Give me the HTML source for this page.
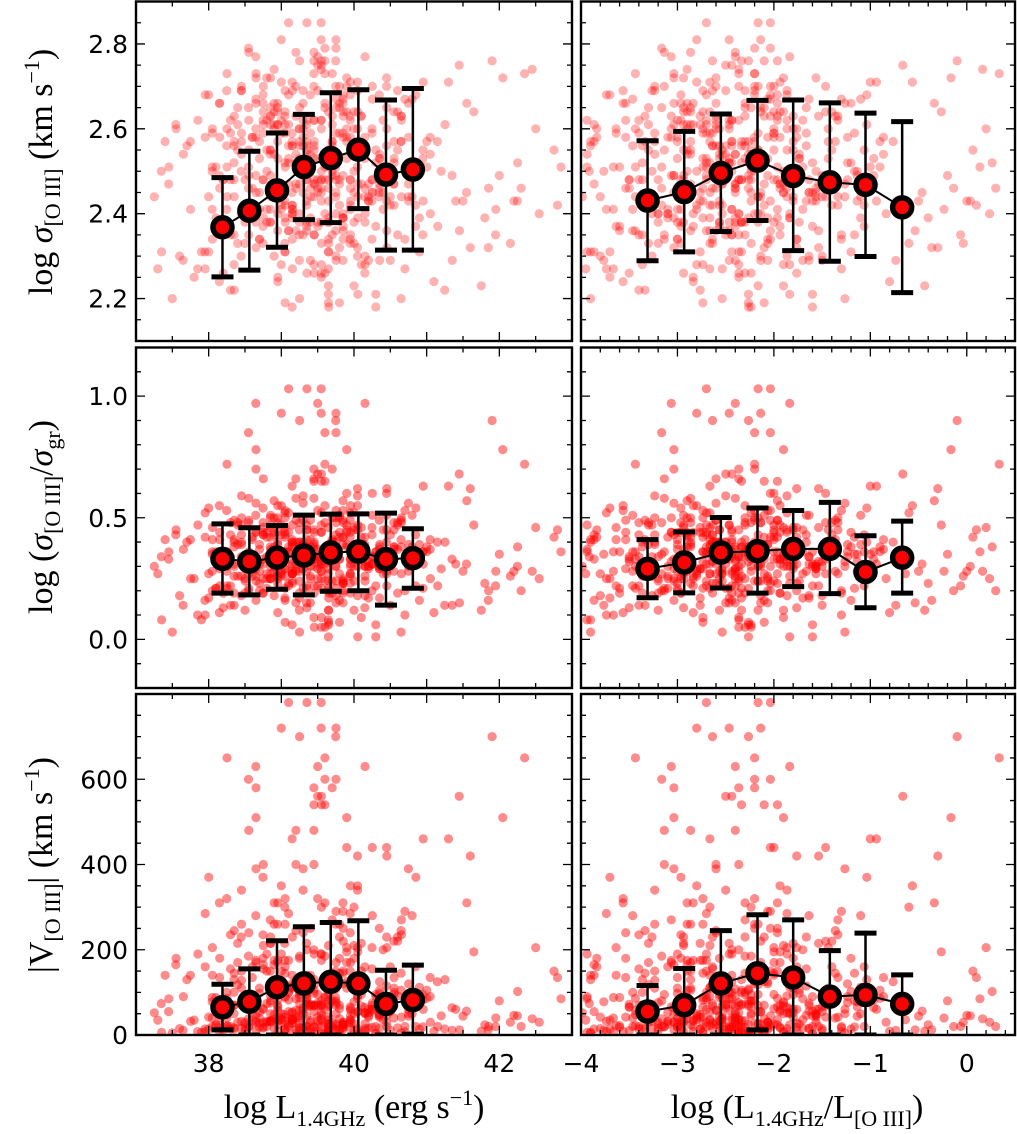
<!DOCTYPE html>
<html><head><meta charset="utf-8"><style>
html,body{margin:0;padding:0;background:#fff;}
svg{display:block;}
.tick{font-family:"DejaVu Sans","Liberation Sans",sans-serif;font-size:25px;fill:#000;}
.lab{font-family:"Liberation Serif","DejaVu Serif",serif;font-size:34px;fill:#000;}
</style></head><body>
<svg id="chart" width="1017" height="1134" viewBox="0 0 1017 1134" xmlns="http://www.w3.org/2000/svg">
<g id="layer"></g>
<text class="lab" transform="translate(52,172) rotate(-90)" text-anchor="middle">log <tspan font-style="italic">σ</tspan><tspan font-size="22" dy="8">[O III]</tspan><tspan dy="-8"> (km s</tspan><tspan font-size="22" dy="-13">−1</tspan><tspan dy="13">)</tspan></text>
<text class="lab" transform="translate(52,517) rotate(-90)" text-anchor="middle">log (<tspan font-style="italic">σ</tspan><tspan font-size="22" dy="8">[O III]</tspan><tspan dy="-8">/</tspan><tspan font-style="italic">σ</tspan><tspan font-size="22" dy="8">gr</tspan><tspan dy="-8">)</tspan></text>
<text class="lab" transform="translate(52,865) rotate(-90)" text-anchor="middle">|V<tspan font-size="22" dy="8">[O III]</tspan><tspan dy="-8">| (km s</tspan><tspan font-size="22" dy="-13">−1</tspan><tspan dy="13">)</tspan></text>
<text class="lab" x="354" y="1118" text-anchor="middle">log L<tspan font-size="22" dy="8">1.4GHz</tspan><tspan dy="-8"> (erg s</tspan><tspan font-size="22" dy="-13">−1</tspan><tspan dy="13">)</tspan></text>
<text class="lab" x="797" y="1118" text-anchor="middle">log (L<tspan font-size="22" dy="8">1.4GHz</tspan><tspan dy="-8">/L</tspan><tspan font-size="22" dy="8">[O III]</tspan><tspan dy="-8">)</tspan></text>
</svg>
<script>
// per-galaxy data
const L=[39.2,38.7,40.1,39.6,38.3,39.9,40.6,39.4,38.9,39.7,37.8,40.3,39.1,38.5,39.8,41.2,39.3,40.0,38.8,39.5,
38.1,39.6,40.4,39.0,38.6,39.8,40.9,39.2,37.5,39.4,40.2,38.4,39.7,41.6,39.1,38.9,40.5,39.3,38.2,39.9,
40.0,39.5,38.7,41.0,39.2,38.0,39.6,40.7,39.4,38.6,42.3,39.8,38.3,40.1,39.0,39.5,38.8,40.4,37.9,39.7,
39.3,40.8,38.5,39.1,40.2,38.9,39.6,41.4,39.4,38.1,39.9,40.3,38.7,39.2,42.8,39.5,38.4,40.6,39.0,39.8,
38.6,39.7,40.0,37.3,39.3,40.5,38.9,39.6,41.8,39.1,38.2,40.1,39.4,38.8,39.9,40.9,39.2,38.5,40.3,39.6,
39.0,38.3,39.8,40.7,39.5,38.7,41.1,39.3,40.0,38.0,39.6,40.4,39.1,37.6,39.7,40.2,38.9,39.4,42.0,39.9,
38.8,39.5,40.6,39.2,38.4,39.8,41.3,39.0,38.6,40.1,39.7,38.2,39.3,40.8,39.6,38.9,40.3,39.1,37.7,39.4,
40.2,39.0,38.5,39.7,41.5,39.3,38.1,40.0,39.8,38.7,40.5,39.4,42.5,39.1,38.3,39.9,40.4,38.8,39.6,39.2,
39.5,38.6,40.7,39.3,38.0,39.9,40.2,41.9,39.1,38.4,39.7,40.0,38.9,39.5,40.9,37.4,39.2,38.7,40.3,39.8,
39.0,40.4,38.8,39.6,41.0,39.4,38.3,40.1,39.7,38.5,39.3,40.6,39.1,42.2,38.9,39.8,40.0,38.2,39.5,40.8];
const R=[-2.5,-3.0,-2.1,-2.7,-3.4,-1.8,-2.3,-2.9,-1.5,-2.6,-3.7,-2.0,-2.4,-3.2,-1.2,-2.8,-2.2,-0.6,-2.6,-1.9,
-3.1,-2.4,-1.7,-2.8,-3.5,-2.2,-1.0,-2.5,-3.9,-2.0,-1.6,-3.3,-2.7,-0.3,-2.3,-2.9,-1.4,-2.6,-3.6,-2.1,
-1.9,-2.5,-3.0,-0.9,-2.4,-3.8,-2.7,-1.3,-2.2,-3.1,0.3,-2.0,-3.4,-1.8,-2.8,-2.3,-3.0,-1.5,-3.9,-2.6,
-2.4,-1.1,-3.2,-2.7,-1.7,-2.9,-2.1,-0.7,-2.5,-3.6,-2.0,-1.6,-3.0,-2.4,0.1,-2.2,-3.3,-1.4,-2.8,-2.0,
-3.0,-2.3,-1.9,-3.95,-2.6,-1.5,-2.9,-2.2,-0.4,-2.7,-3.5,-1.8,-2.4,-3.1,-2.0,-1.2,-2.5,-3.2,-1.6,-2.3,
-2.8,-3.4,-2.1,-1.3,-2.5,-3.0,-0.8,-2.6,-1.9,-3.7,-2.2,-1.7,-2.7,-3.8,-2.3,-1.8,-2.9,-2.4,-0.2,-2.0,
-2.9,-2.4,-1.4,-2.6,-3.3,-2.1,-1.0,-2.8,-3.1,-1.9,-2.3,-3.5,-2.5,-1.2,-2.2,-2.9,-1.6,-2.7,-3.9,-2.4,
-1.8,-2.7,-3.2,-2.2,-0.5,-2.5,-3.6,-2.0,-2.1,-3.0,-1.5,-2.4,0.2,-2.6,-3.4,-1.9,-1.7,-2.9,-2.3,-2.6,
-2.3,-3.1,-1.3,-2.5,-3.7,-2.0,-1.8,-0.1,-2.7,-3.3,-2.2,-1.9,-2.9,-2.4,-1.1,-3.9,-2.6,-3.0,-1.6,-2.1,
-2.7,-1.6,-3.0,-2.3,-0.9,-2.4,-3.4,-1.9,-2.2,-3.2,-2.5,-1.3,-2.7,0.0,-2.9,-2.1,-1.8,-3.5,-2.4,-1.1];
const S=[2.52,2.41,2.63,2.48,2.35,2.57,2.69,2.44,2.30,2.61,2.25,2.55,2.47,2.38,2.66,2.50,2.58,2.33,2.72,2.45,
2.39,2.54,2.62,2.28,2.46,2.70,2.51,2.36,2.20,2.59,2.43,2.65,2.49,2.32,2.56,2.74,2.42,2.60,2.37,2.53,
2.64,2.48,2.34,2.57,2.78,2.44,2.51,2.27,2.68,2.40,2.46,2.59,2.22,2.55,2.71,2.38,2.62,2.49,2.31,2.56,
2.45,2.67,2.40,2.53,2.29,2.61,2.76,2.43,2.50,2.36,2.64,2.18,2.57,2.47,2.42,2.69,2.33,2.55,2.81,2.48,
2.58,2.35,2.50,2.27,2.66,2.44,2.60,2.73,2.39,2.52,2.26,2.63,2.46,2.41,2.70,2.31,2.54,2.48,2.37,2.65,
2.42,2.59,2.47,2.34,2.75,2.53,2.24,2.62,2.45,2.68,2.40,2.51,2.85,2.30,2.57,2.43,2.66,2.38,2.49,2.60,
2.50,2.37,2.64,2.46,2.55,2.32,2.71,2.41,2.58,2.28,2.63,2.48,2.35,2.52,2.79,2.44,2.21,2.61,2.56,2.39,
2.47,2.62,2.33,2.57,2.43,2.69,2.51,2.38,2.65,2.45,2.29,2.54,2.60,2.36,2.48,2.72,2.41,2.55,2.26,2.63,
2.53,2.40,2.67,2.49,2.31,2.58,2.44,2.76,2.36,2.61,2.50,2.23,2.64,2.46,2.39,2.57,2.70,2.34,2.52,2.42,
2.59,2.45,2.38,2.66,2.51,2.29,2.62,2.47,2.73,2.40,2.56,2.35,2.68,2.43,2.54,2.19,2.60,2.48,2.77,2.44];
const Q=[0.35,0.28,0.42,0.31,0.22,0.38,0.47,0.30,0.18,0.40,0.25,0.36,0.33,0.12,0.44,0.29,0.39,0.52,0.27,0.34,
0.21,0.37,0.45,0.26,0.32,0.50,0.35,0.15,0.03,0.41,0.30,0.48,0.24,0.62,0.36,0.28,0.43,0.33,0.19,0.39,
0.46,0.31,0.23,0.38,0.58,0.27,0.35,0.10,0.49,0.30,0.20,0.42,0.14,0.37,0.55,0.25,0.44,0.32,0.08,0.40,
0.29,0.51,0.24,0.36,0.17,0.43,0.65,0.31,0.34,0.21,0.47,0.06,0.39,0.28,0.45,0.53,0.26,0.37,0.93,0.33,
0.41,0.19,0.35,0.27,0.56,0.30,0.44,0.72,0.23,0.38,0.13,0.46,0.32,0.25,0.60,0.16,0.40,0.34,0.22,0.48,
0.27,0.43,0.33,0.20,0.68,0.37,0.11,0.49,0.30,0.54,0.24,0.36,1.03,0.18,0.41,0.29,0.57,0.26,0.35,0.45,
0.34,0.22,0.48,0.31,0.39,0.16,0.63,0.28,0.42,0.09,0.50,0.33,0.21,0.38,0.85,0.30,0.01,0.44,0.40,0.25,
0.32,0.47,0.19,0.40,0.28,0.59,0.36,0.24,0.51,0.31,0.14,0.38,0.46,0.23,0.34,0.78,0.27,0.42,0.05,0.49,
0.37,0.26,0.53,0.33,0.17,0.44,0.30,0.90,0.22,0.47,0.35,0.12,0.50,0.29,0.39,0.41,0.66,0.20,0.36,0.27,
0.43,0.31,0.21,0.55,0.36,0.15,0.48,0.33,0.70,0.25,0.40,0.19,0.52,0.28,0.38,0.07,0.45,0.34,0.97,0.30];
const V=[85,40,150,60,20,110,230,70,15,130,35,95,55,10,180,45,120,300,30,75,
25,90,200,50,65,260,80,12,5,140,45,170,30,420,100,38,160,58,18,125,
210,70,28,105,480,42,88,8,250,52,20,145,14,95,350,33,190,66,6,115,
48,280,26,82,16,165,540,60,72,22,195,4,110,40,135,320,30,92,720,62,
135,18,78,35,390,55,175,650,24,100,10,215,68,32,440,14,128,76,20,185,
36,155,70,20,560,98,9,240,50,370,28,85,780,15,145,42,310,34,80,205,
74,22,220,58,118,12,460,40,160,7,270,66,19,102,600,48,3,175,130,30,
60,190,16,125,44,340,88,26,230,54,11,108,205,24,70,510,36,150,2,245,
95,32,290,64,14,170,52,700,20,215,80,9,260,42,112,140,400,18,90,38,
150,56,20,310,86,13,235,68,580,30,120,17,285,46,105,6,180,72,630,50];
// binned means
const binL=[38.19,38.56,38.94,39.31,39.68,40.06,40.44,40.81];
const binR=[-3.31,-2.93,-2.55,-2.17,-1.80,-1.42,-1.05,-0.67];
const sigL=[2.368,2.407,2.455,2.510,2.531,2.551,2.492,2.504];
const sigLhi=[2.485,2.547,2.590,2.634,2.685,2.692,2.668,2.695];
const sigLlo=[2.251,2.267,2.321,2.386,2.379,2.412,2.314,2.314];
const sigR=[2.431,2.451,2.496,2.525,2.489,2.474,2.468,2.415];
const sigRhi=[2.572,2.594,2.635,2.667,2.668,2.661,2.637,2.617];
const sigRlo=[2.289,2.310,2.358,2.384,2.313,2.288,2.299,2.214];
const qL=[0.331,0.320,0.336,0.345,0.357,0.361,0.330,0.334];
const qLhi=[0.475,0.459,0.468,0.511,0.515,0.516,0.519,0.455];
const qLlo=[0.190,0.183,0.206,0.183,0.198,0.200,0.141,0.210];
const qR=[0.290,0.316,0.357,0.363,0.372,0.372,0.277,0.336];
const qRhi=[0.410,0.442,0.501,0.540,0.530,0.563,0.426,0.486];
const qRlo=[0.171,0.191,0.211,0.190,0.217,0.188,0.130,0.190];
const vL=[65,78,112,121,125,121,73,82];
const vLhi=[119,155,221,254,264,268,152,164];
const vLlo=[12,0,0,0,0,0,0,2];
const vR=[55,70,121,145,135,90,94,73];
const vRhi=[116,156,245,282,270,198,239,141];
const vRlo=[0,0,0,12,0,0,0,0];
const xTicksL=['38','40','42'];
const xTicksR=['−4','−3','−2','−1','0'];
const yTicksS=['2.2','2.4','2.6','2.8'];
const yTicksQ=['0.0','0.5','1.0'];
const yTicksV=['0','200','400','600'];

const NS='http://www.w3.org/2000/svg';
const layer=document.getElementById('layer');
function mk(tag,attrs,parent){const e=document.createElementNS(NS,tag);for(const k in attrs)e.setAttribute(k,attrs[k]);(parent||layer).appendChild(e);return e;}
const cols=[{x0:136,x1:572,min:37,max:43,major:1,minor:0.5,labels:xTicksL,lmin:38,lstep:2},
            {x0:581,x1:1015,min:-4,max:0.5,major:1,minor:0.2,labels:xTicksR,lmin:-4,lstep:1}];
const rows=[{y0:1.5,y1:341,min:2.1,max:2.9,major:0.2,minor:0.05,labels:yTicksS,lmin:2.2,lstep:0.2},
            {y0:347.5,y1:688,min:-0.2,max:1.2,major:0.5,minor:0.1,labels:yTicksQ,lmin:0,lstep:0.5},
            {y0:694,y1:1035,min:0,max:800,major:200,minor:50,labels:yTicksV,lmin:0,lstep:200}];
const yData=[S,Q,V];
const xData=[L,R];
const bins=[binL,binR];
const stats=[[[sigL,sigLhi,sigLlo],[sigR,sigRhi,sigRlo]],[[qL,qLhi,qLlo],[qR,qRhi,qRlo]],[[vL,vLhi,vLlo],[vR,vRhi,vRlo]]];
const names=['sigma','ratio','velocity'];
const pairShifts=[0,37,83];
const copyOffsetPx=[0,3.5,-3.5];
let cid=0;
rows.forEach((r,ri)=>{
  cols.forEach((c,ci)=>{
    const sx=v=>c.x0+(v-c.min)/(c.max-c.min)*(c.x1-c.x0);
    const sy=v=>r.y1-(v-r.min)/(r.max-r.min)*(r.y1-r.y0);
    const g=mk('g',{});
    
    
    cid++;
    const clip=mk('clipPath',{id:'c'+cid},g);
    mk('rect',{x:c.x0,y:r.y0,width:c.x1-c.x0,height:r.y1-r.y0},clip);
    const pts=mk('g',{'clip-path':'url(#c'+cid+')'},g);
    
    
    const xs=xData[ci],ys=yData[ri],n=xs.length;
    pairShifts.forEach((sh,si)=>{
      for(let i=0;i<n;i++){
        const p=mk('circle',{cx:(sx(xs[i])+copyOffsetPx[si]).toFixed(1),cy:sy(ys[(i+sh)%n]).toFixed(1),r:4.6,fill:'#ff0000','fill-opacity':ri==0?0.3:0.45},pts);
        
        
      }
    });
    const st=stats[ri][ci],bx=bins[ci];
    const eg=mk('g',{'clip-path':'url(#c'+cid+')'},g);
    
    
    for(let i=0;i<bx.length;i++){
      const x=sx(bx[i]),yh=sy(st[1][i]),yl=sy(st[2][i]);
      const eb=mk('path',{d:`M${x},${yh}V${yl}`,stroke:'#000','stroke-width':2.5,fill:'none'},eg);
      
      
      const caps=mk('path',{d:`M${x-11},${yh}H${x+11}M${x-11},${yl}H${x+11}`,stroke:'#000','stroke-width':5},eg);
      
      
    }
    const line=mk('polyline',{points:bx.map((b,i)=>sx(b)+','+sy(st[0][i])).join(' '),stroke:'#000','stroke-width':2,fill:'none'},eg);
    
    
    for(let i=0;i<bx.length;i++){
      const m=mk('circle',{cx:sx(bx[i]),cy:sy(st[0][i]),r:9.5,fill:'#ff0000',stroke:'#000','stroke-width':5.5},eg);
      
      
    }
    let td='';
    const nx=Math.round((c.max-c.min)/c.minor);
    for(let k=0;k<=nx;k++){const v=c.min+k*c.minor;const x=sx(v);const maj=Math.abs(v/c.major-Math.round(v/c.major))<1e-6;const len=maj?9:5;
      td+=`M${x},${r.y1}v${-len}M${x},${r.y0}v${len}`;}
    const ny=Math.round((r.max-r.min)/r.minor);
    for(let k=0;k<=ny;k++){const v=r.min+k*r.minor;const y=sy(v);const maj=Math.abs(v/r.major-Math.round(v/r.major))<1e-6;const len=maj?9:5;
      td+=`M${c.x0},${y}h${len}M${c.x1},${y}h${-len}`;}
    const tk=mk('path',{d:td,stroke:'#000','stroke-width':1.3,fill:'none'},g);
    
    
    const fr=mk('rect',{x:c.x0,y:r.y0,width:c.x1-c.x0,height:r.y1-r.y0,fill:'none',stroke:'#000','stroke-width':2.4},g);
    
    
    if(ci==0){
      r.labels.forEach((t,k)=>{const e=mk('text',{x:c.x0-8,y:sy(r.lmin+k*r.lstep)+9,'text-anchor':'end',class:'tick'},g);e.textContent=t;
        });
    }
    if(ri==2){
      c.labels.forEach((t,k)=>{const e=mk('text',{x:sx(c.lmin+k*c.lstep),y:1072,'text-anchor':'middle',class:'tick'},g);e.textContent=t;
        });
    }
  });
});
</script>
</body></html>
